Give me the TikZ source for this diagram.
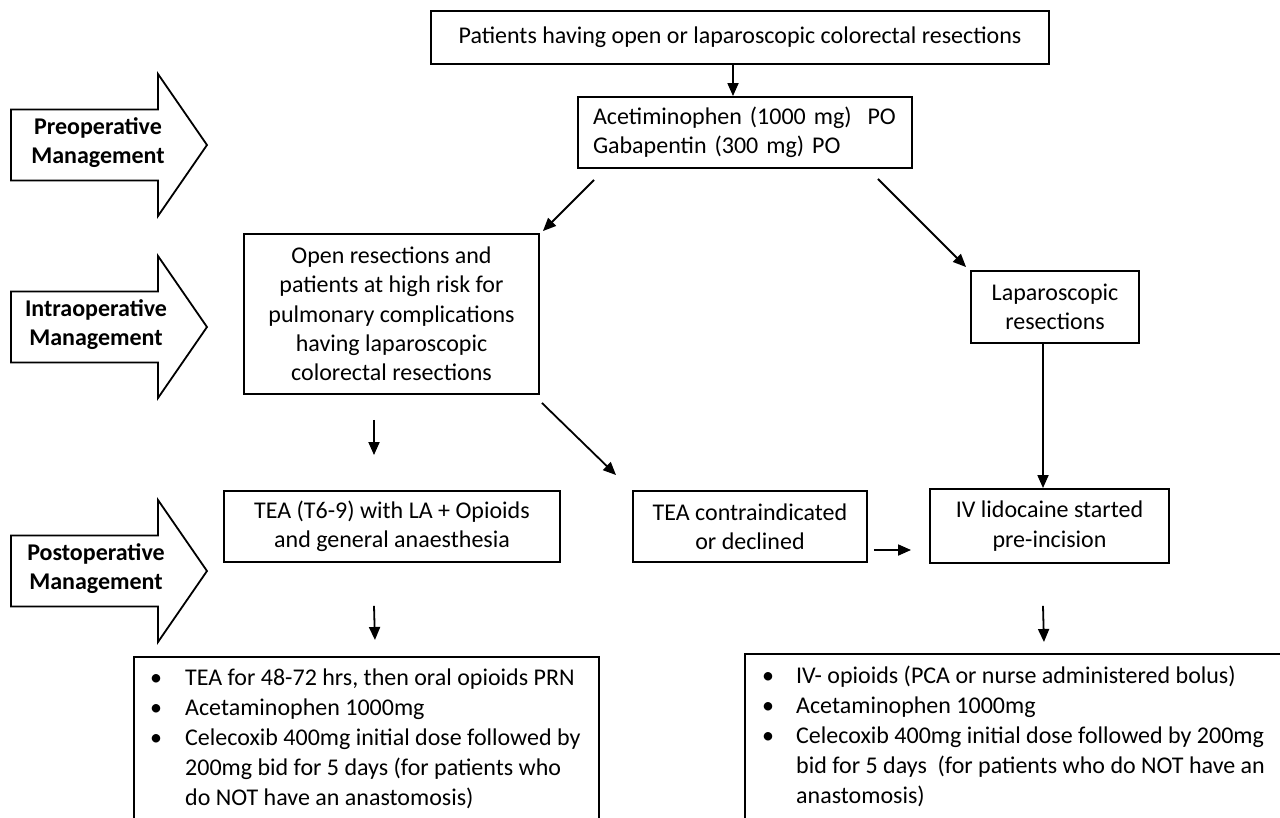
\documentclass[tikz,border=0pt]{standalone}
\usepackage{fontspec}
\setmainfont{Carlito}
\usetikzlibrary{arrows.meta}
\begin{document}
\begin{tikzpicture}[x=1pt,y=-1pt,
  box/.style={draw, line width=1.9pt, align=center, inner sep=0pt, font=\fontsize{24}{29.3}\selectfont},
  arr/.style={line width=1.8pt, -{Triangle[length=13pt,width=11pt]}},
  lbl/.style={font=\fontsize{24}{29}\selectfont\bfseries, align=center, inner sep=0pt},
  phase/.style={draw, line width=1.8pt, fill=white, line join=miter},
  listbox/.style={draw, line width=1.9pt, anchor=north west, inner sep=0pt},
  listtext/.style={anchor=north west, inner sep=0pt, font=\fontsize{24}{30}\selectfont}]
\useasboundingbox (0,0) rectangle (1280,817);
\clip (0,0) rectangle (1280,817);
\fill[white] (0,0) rectangle (1280,817);

% phase arrows
\draw[phase] (11,109.5) -- (158,109.5) -- (158,74) -- (207,145) -- (158,216) -- (158,180.5) -- (11,180.5) -- cycle;
\node[lbl] (pre) at (98,143) {Preoperative\\Management};
\draw[phase] (11,291.5) -- (158,291.5) -- (158,256) -- (207,327) -- (158,398) -- (158,362.5) -- (11,362.5) -- cycle;
\node[lbl] (intra) at (96,325) {Intraoperative\\Management};
\draw[phase] (11,535.5) -- (158,535.5) -- (158,500) -- (207,571) -- (158,642) -- (158,606.5) -- (11,606.5) -- cycle;
\node[lbl] (post) at (96,569) {Postoperative\\Management};

% boxes
\node[box, minimum width=618, minimum height=53] (top) at (740,37.5) {Patients having open or laparoscopic colorectal resections};
\node[box, minimum width=334, minimum height=71, text width=304, align=left] (med) at (745,132.5) {Acetiminophen (1000 mg)~ PO\\Gabapentin (300 mg) PO};
\node[box, minimum width=295, minimum height=160] (open) at (391.5,314) {Open resections and\\patients at high risk for\\pulmonary complications\\having laparoscopic\\colorectal resections};
\node[box, minimum width=168, minimum height=72] (lap) at (1055,307) {Laparoscopic\\resections};
\node[box, minimum width=336, minimum height=71] (tea) at (392,526.5) {TEA (T6-9) with LA + Opioids\\and general anaesthesia};
\node[box, minimum width=234, minimum height=71] (contra) at (750,526.5) {TEA contraindicated\\or declined};
\node[box, minimum width=239, minimum height=74] (iv) at (1049.5,526) {IV lidocaine started\\pre-incision};

\node[listbox, minimum width=465, minimum height=200] (botL) at (133,656) {};
\node[listbox, minimum width=560, minimum height=200] (botR) at (744,653) {};

\node[listtext] (listL) at (150,664) {\begin{tabular}{@{}p{35pt}@{}l@{}}
\textbullet & TEA for 48-72 hrs, then oral opioids PRN\\
\textbullet & Acetaminophen 1000mg\\
\textbullet & Celecoxib 400mg initial dose followed by\\
 & 200mg bid for 5 days (for patients who\\
 & do NOT have an anastomosis)
\end{tabular}};
\node[listtext] (listR) at (762,662) {\begin{tabular}{@{}p{34pt}@{}l@{}}
\textbullet & IV- opioids (PCA or nurse administered bolus)\\
\textbullet & Acetaminophen 1000mg\\
\textbullet & Celecoxib 400mg initial dose followed by 200mg\\
 & bid for 5 days~ (for patients who do NOT have an\\
 & anastomosis)
\end{tabular}};

% connectors
\draw[arr] ([xshift=-7pt]top.south) -- ([xshift=-12pt]med.north);
\draw[arr] ([xshift=17pt,yshift=-11pt]med.south west) -- ([xshift=3pt,yshift=2pt]open.north east);
\draw[arr] ([xshift=-35pt,yshift=-10pt]med.south east) -- ([xshift=-4pt,yshift=3pt]lap.north west);
\draw[arr] ([xshift=-17.5pt,yshift=-25pt]open.south) -- ([xshift=-18pt,yshift=35pt]tea.north);
\draw[arr] ([xshift=2pt,yshift=-8pt]open.south east) -- ([xshift=-16pt,yshift=15pt]contra.north west);
\draw[arr] ([xshift=-12pt]lap.south) -- ([xshift=-6.5pt]iv.north);
\draw[arr] ([xshift=6pt,yshift=-23.5pt]contra.east) -- ([xshift=-18pt,yshift=-24pt]iv.west);
\draw[arr] ([xshift=-18pt,yshift=-43pt]tea.south) -- ([xshift=8.5pt,yshift=16pt]botL.north);
\draw[arr] ([xshift=-6.5pt,yshift=-42pt]iv.south) -- ([xshift=19pt,yshift=11pt]botR.north);
\end{tikzpicture}
\end{document}
